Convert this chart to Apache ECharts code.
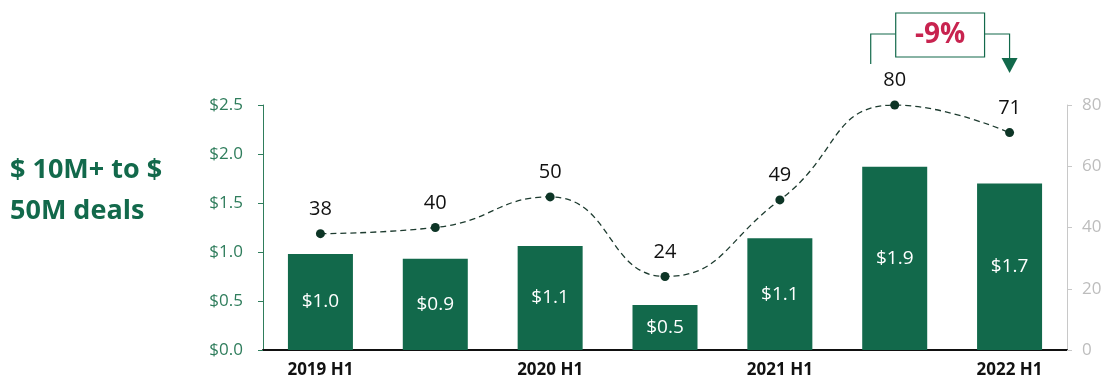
<!DOCTYPE html>
<html>
<head>
<meta charset="utf-8">
<script src="https://cdn.jsdelivr.net/npm/echarts@6/dist/echarts.min.js"></script>
<style>
  html, body { margin: 0; padding: 0; background: #fff; }
  #chart { width: 1109px; height: 384px; }
</style>
</head>
<body>
<div id="chart"></div>
<script>
// Half-year periods on the category axis
const categories = ['2019 H1', '2019 H2', '2020 H1', '2020 H2', '2021 H1', '2021 H2', '2022 H1'];
// Only every other period is labelled
const shownLabels = ['2019 H1', '2020 H1', '2021 H1', '2022 H1'];
// Deal value, $B (bars, left axis)
const dealValue = [0.98, 0.93, 1.06, 0.46, 1.14, 1.87, 1.70];
// Deal count (dotted line, right axis)
const dealCount = [38, 40, 50, 24, 49, 80, 71];
// Left and right axis ticks
const valueTicks = [0, 0.5, 1.0, 1.5, 2.0, 2.5];
const countTicks = [0, 20, 40, 60, 80];
const changeText = '-9%';

const GREEN = '#12694b';
const AXIS_GREEN = '#2f7d5c';
const FONT = '"Open Sans", "Noto Sans", sans-serif';

const chart = echarts.init(document.getElementById('chart'));

const option = {
  animation: false,
  grid: { left: 263, right: 42, top: 105, bottom: 34 },
  xAxis: {
    type: 'category',
    data: categories,
    axisLine: { lineStyle: { color: '#111', width: 2 } },
    axisTick: { show: false },
    axisLabel: {
      interval: 0,
      margin: 12,
      color: '#111',
      fontWeight: 'bold',
      fontSize: 17,
      fontFamily: FONT,
      formatter: v => shownLabels.includes(v) ? v : ''
    }
  },
  yAxis: [
    {
      type: 'value',
      min: valueTicks[0],
      max: valueTicks[valueTicks.length - 1],
      interval: 0.5,
      splitLine: { show: false },
      axisLine: { show: true, lineStyle: { color: AXIS_GREEN, width: 1 } },
      axisTick: { show: true, inside: false, length: 5, lineStyle: { color: AXIS_GREEN } },
      axisLabel: {
        color: AXIS_GREEN,
        fontSize: 17,
        fontFamily: FONT,
        margin: 20,
        formatter: v => '$' + v.toFixed(1)
      }
    },
    {
      type: 'value',
      min: countTicks[0],
      max: countTicks[countTicks.length - 1],
      interval: 20,
      position: 'right',
      splitLine: { show: false },
      axisLine: { show: true, lineStyle: { color: '#c8c8c8', width: 1 } },
      axisTick: { show: true, length: 5, lineStyle: { color: '#c8c8c8' } },
      axisLabel: { color: '#bdbdbd', fontSize: 17, fontFamily: FONT, margin: 15 }
    }
  ],
  series: [
    {
      type: 'bar',
      data: dealValue,
      yAxisIndex: 0,
      barWidth: 65,
      itemStyle: { color: GREEN },
      label: {
        show: true,
        position: 'inside',
        color: '#fff',
        fontSize: 19,
        fontFamily: FONT,
        formatter: p => '$' + p.value.toFixed(1)
      }
    },
    {
      type: 'line',
      data: dealCount,
      yAxisIndex: 1,
      smooth: 0.5,
      symbol: 'circle',
      symbolSize: 9,
      lineStyle: { color: '#1d3b2f', width: 1.3, type: [6, 4] },
      itemStyle: { color: '#0d3526' },
      label: {
        show: true,
        position: 'top',
        distance: 10,
        color: '#111',
        fontSize: 20,
        fontFamily: FONT
      },
      z: 5
    }
  ],
  graphic: [
    {
      type: 'text',
      left: 10,
      top: 150,
      style: {
        text: '$ 10M+ to $\n50M deals',
        fill: GREEN,
        font: 'bold 27px ' + FONT,
        lineHeight: 41
      }
    }
  ]
};

chart.setOption(option);

// Change callout between the last two periods, anchored to their points
const peak = chart.convertToPixel({ xAxisIndex: 0, yAxisIndex: 1 }, [categories[5], dealCount[5]]);
const last = chart.convertToPixel({ xAxisIndex: 0, yAxisIndex: 1 }, [categories[6], dealCount[6]]);
const xL = peak[0] - 24;
const xR = last[0];
const yBar = 34;
const boxL = xL + 25, boxR = xR - 25;
const lineStyle = { stroke: GREEN, lineWidth: 1.2, fill: null };

chart.setOption({
  graphic: [
    option.graphic[0],
    {
      type: 'polyline',
      shape: { points: [[xL, 64], [xL, yBar], [boxL, yBar]] },
      style: lineStyle
    },
    {
      type: 'polyline',
      shape: { points: [[boxR, yBar], [xR, yBar], [xR, 59]] },
      style: lineStyle
    },
    {
      type: 'polygon',
      shape: { points: [[xR - 8, 58], [xR + 8, 58], [xR, 73]] },
      style: { fill: GREEN }
    },
    {
      type: 'rect',
      shape: { x: boxL, y: 13, width: boxR - boxL, height: 44 },
      style: { fill: '#fff', stroke: GREEN, lineWidth: 1.2 }
    },
    {
      type: 'text',
      x: (boxL + boxR) / 2,
      y: 35,
      style: {
        text: changeText,
        fill: '#c8234f',
        font: 'bold 28px ' + FONT,
        align: 'center',
        verticalAlign: 'middle'
      }
    }
  ]
});
</script>
</body>
</html>
